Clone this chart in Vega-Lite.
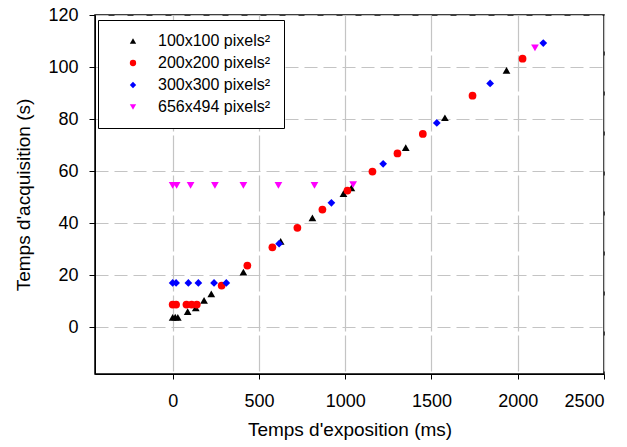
{
  "$schema": "https://vega.github.io/schema/vega-lite/v6.json",
  "width": 509,
  "height": 359,
  "autosize": {"type": "none"},
  "padding": {"left": 95, "top": 15, "right": 23, "bottom": 73},
  "background": "#ffffff",
  "config": {
    "view": {"stroke": "#000000", "strokeWidth": 1.5},
    "font": "Liberation Sans",
    "axis": {
      "labelFont": "Liberation Sans",
      "titleFont": "Liberation Sans",
      "labelFontSize": 18,
      "titleFontSize": 19,
      "titleFontWeight": "normal",
      "labelColor": "#000000",
      "titleColor": "#000000",
      "domainColor": "#000000",
      "tickColor": "#000000",
      "gridColor": "#c4c4c4",
      "gridWidth": 1.2
    }
  },
  "data": {
    "values": [
      {"series": "100x100 pixels²", "t": 0, "acq": 3.8},
      {"series": "100x100 pixels²", "t": 15, "acq": 3.9},
      {"series": "100x100 pixels²", "t": 30, "acq": 3.8},
      {"series": "100x100 pixels²", "t": 87, "acq": 6.0},
      {"series": "100x100 pixels²", "t": 134, "acq": 7.4},
      {"series": "100x100 pixels²", "t": 182, "acq": 10.3},
      {"series": "100x100 pixels²", "t": 224, "acq": 12.8},
      {"series": "100x100 pixels²", "t": 410, "acq": 21.2},
      {"series": "100x100 pixels²", "t": 626, "acq": 33.0},
      {"series": "100x100 pixels²", "t": 810, "acq": 42.0},
      {"series": "100x100 pixels²", "t": 990, "acq": 51.3},
      {"series": "100x100 pixels²", "t": 1036, "acq": 53.5},
      {"series": "100x100 pixels²", "t": 1351, "acq": 69.0},
      {"series": "100x100 pixels²", "t": 1578, "acq": 80.5},
      {"series": "100x100 pixels²", "t": 1935, "acq": 98.7},
      {"series": "200x200 pixels²", "t": 0, "acq": 8.7},
      {"series": "200x200 pixels²", "t": 20, "acq": 8.7},
      {"series": "200x200 pixels²", "t": 80, "acq": 8.7},
      {"series": "200x200 pixels²", "t": 110, "acq": 8.7},
      {"series": "200x200 pixels²", "t": 140, "acq": 8.7},
      {"series": "200x200 pixels²", "t": 284, "acq": 16.0},
      {"series": "200x200 pixels²", "t": 433, "acq": 23.7},
      {"series": "200x200 pixels²", "t": 578, "acq": 30.7},
      {"series": "200x200 pixels²", "t": 723, "acq": 38.2},
      {"series": "200x200 pixels²", "t": 868, "acq": 45.2},
      {"series": "200x200 pixels²", "t": 1013, "acq": 52.5},
      {"series": "200x200 pixels²", "t": 1158, "acq": 59.8},
      {"series": "200x200 pixels²", "t": 1303, "acq": 66.8},
      {"series": "200x200 pixels²", "t": 1450, "acq": 74.3},
      {"series": "200x200 pixels²", "t": 1738, "acq": 89.0},
      {"series": "200x200 pixels²", "t": 2028, "acq": 103.2},
      {"series": "300x300 pixels²", "t": 0, "acq": 17.0},
      {"series": "300x300 pixels²", "t": 20, "acq": 17.0},
      {"series": "300x300 pixels²", "t": 91, "acq": 17.0},
      {"series": "300x300 pixels²", "t": 149, "acq": 17.0},
      {"series": "300x300 pixels²", "t": 240, "acq": 17.0},
      {"series": "300x300 pixels²", "t": 311, "acq": 17.0},
      {"series": "300x300 pixels²", "t": 617, "acq": 32.1},
      {"series": "300x300 pixels²", "t": 920, "acq": 47.8},
      {"series": "300x300 pixels²", "t": 1220, "acq": 62.8},
      {"series": "300x300 pixels²", "t": 1531, "acq": 78.5},
      {"series": "300x300 pixels²", "t": 1840, "acq": 93.7},
      {"series": "300x300 pixels²", "t": 2148, "acq": 109.2},
      {"series": "656x494 pixels²", "t": 0, "acq": 54.5},
      {"series": "656x494 pixels²", "t": 23, "acq": 54.5},
      {"series": "656x494 pixels²", "t": 104, "acq": 54.5},
      {"series": "656x494 pixels²", "t": 245, "acq": 54.5},
      {"series": "656x494 pixels²", "t": 410, "acq": 54.5},
      {"series": "656x494 pixels²", "t": 613, "acq": 54.5},
      {"series": "656x494 pixels²", "t": 822, "acq": 54.5},
      {"series": "656x494 pixels²", "t": 1046, "acq": 54.8},
      {"series": "656x494 pixels²", "t": 2100, "acq": 107.4}
    ]
  },
  "mark": {"type": "point", "filled": true, "opacity": 1, "size": 60},
  "encoding": {
    "x": {
      "field": "t",
      "type": "quantitative",
      "scale": {"domain": [-450, 2500], "nice": false, "zero": false},
      "axis": {
        "title": "Temps d'exposition (ms)",
        "values": [0, 500, 1000, 1500, 2000, 2500],
        "format": "d",
        "tickSize": 5,
        "labelPadding": 13,
        "titlePadding": 10,
        "gridDash": [36, 4]
      }
    },
    "y": {
      "field": "acq",
      "type": "quantitative",
      "scale": {"domain": [-18, 120], "nice": false, "zero": false},
      "axis": {
        "title": "Temps d'acquisition (s)",
        "values": [0, 20, 40, 60, 80, 100, 120],
        "format": "d",
        "tickSize": 6,
        "labelPadding": 11,
        "titlePadding": 14,
        "gridDash": [13, 6]
      }
    },
    "color": {
      "field": "series",
      "type": "nominal",
      "scale": {
        "domain": ["100x100 pixels²", "200x200 pixels²", "300x300 pixels²", "656x494 pixels²"],
        "range": ["#000000", "#ff0000", "#0000ff", "#ff00ff"]
      },
      "legend": {
        "title": null,
        "orient": "none",
        "legendX": 3,
        "legendY": 5,
        "fillColor": "#ffffff",
        "strokeColor": "#000000",
        "padding": 13,
        "symbolOffset": 14,
        "labelOffset": 17,
        "labelFont": "Liberation Sans",
        "labelFontSize": 16,
        "labelColor": "#000000",
        "rowPadding": 6,
        "symbolSize": 40,
        "labelLimit": 300
      }
    },
    "shape": {
      "field": "series",
      "type": "nominal",
      "scale": {
        "domain": ["100x100 pixels²", "200x200 pixels²", "300x300 pixels²", "656x494 pixels²"],
        "range": ["triangle-up", "circle", "diamond", "triangle-down"]
      }
    }
  }
}
